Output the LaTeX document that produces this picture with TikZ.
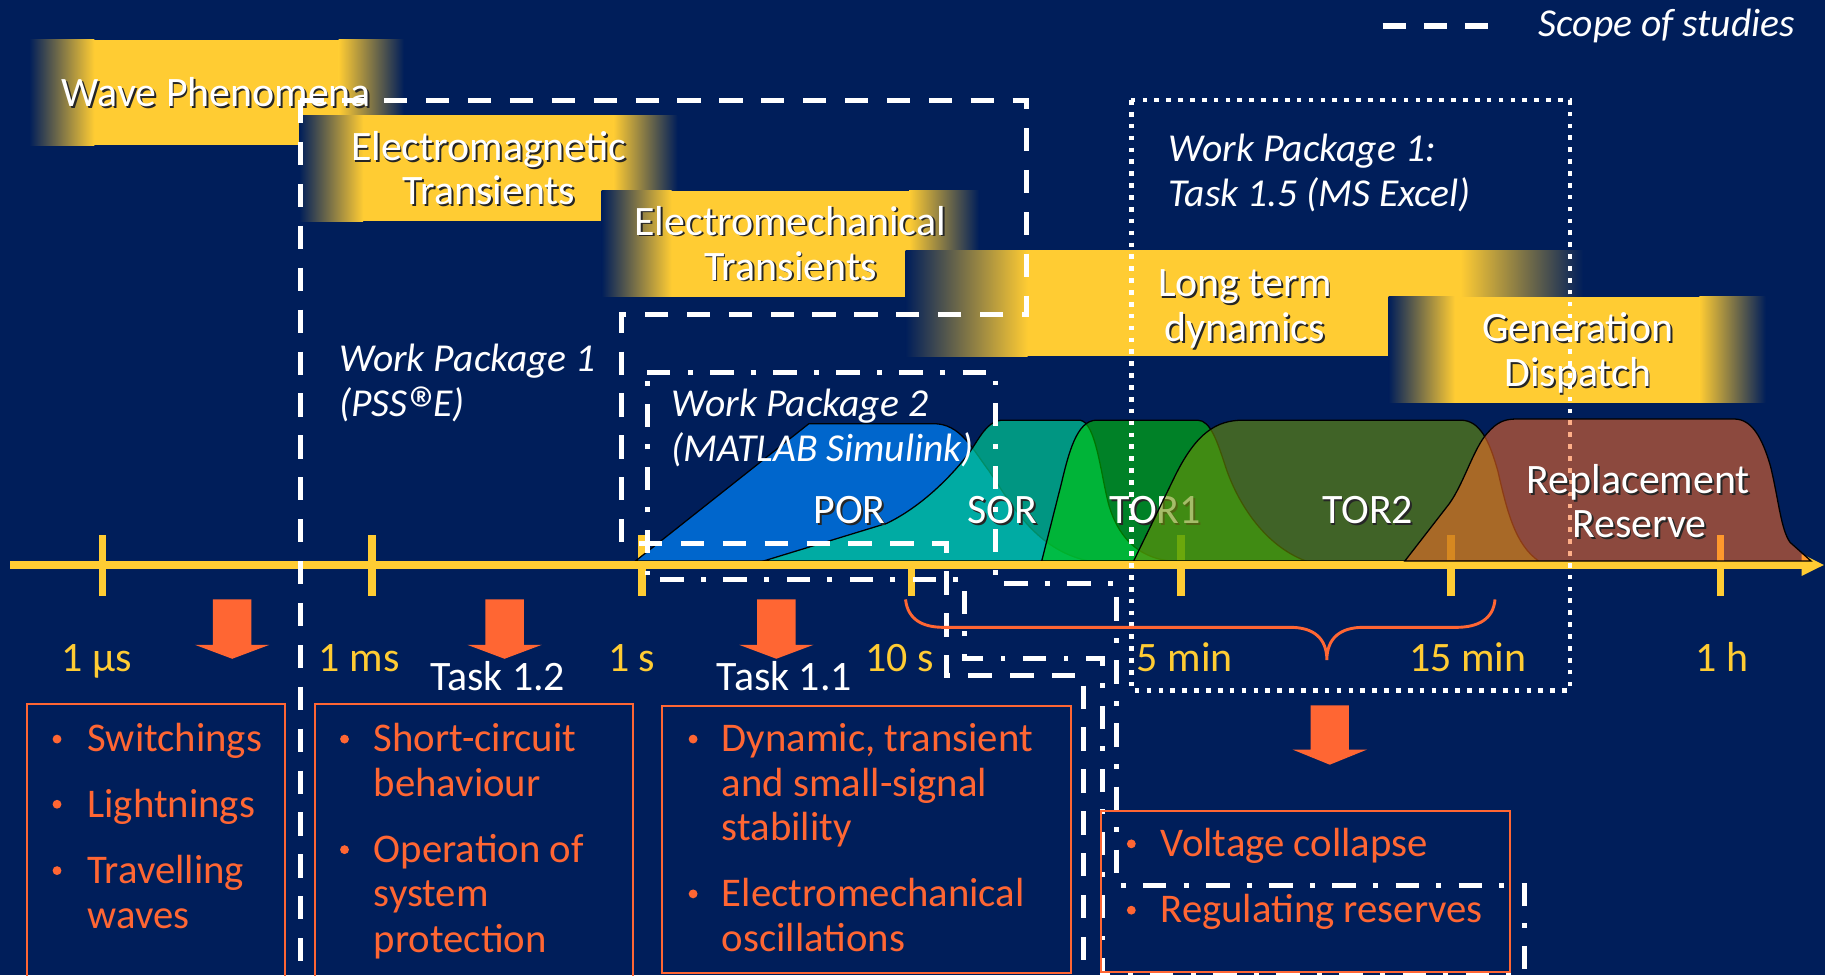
\documentclass[tikz,border=0pt]{standalone}
\usepackage{fontspec}
\setmainfont{Carlito}
\newfontfamily\regmark{Fira Sans}
\definecolor{navy}{RGB}{0,30,90}
\definecolor{gold}{RGB}{255,204,51}
\definecolor{flame}{RGB}{255,102,51}
\definecolor{porblue}{RGB}{0,102,204}
\definecolor{sorteal}{RGB}{0,201,147}
\definecolor{torgreen}{RGB}{0,202,3}
\definecolor{torolive}{RGB}{108,146,6}
\definecolor{rrorange}{RGB}{255,110,40}

% yellow band with soft edges: x1 y1 x2 y2 fade
\newcommand\band[5]{%
  \fill[gold] (#1+#5-0.3,#2) rectangle (#3-#5+0.3,#4);
  \shade[left color=navy,right color=gold] (#1,#2) rectangle (#1+#5,#4);
  \shade[left color=gold,right color=navy] (#3-#5,#2) rectangle (#3,#4);}
% white label with a dark drop shadow: name x y text
\newcommand\shlabel[4]{%
  \node[shlbl,text=black!85] (#1-shadow) at (#2+1.6,#3+1.6) {#4};
  \node[shlbl] (#1) at (#2,#3) {#4};}
% orange block arrow: centre x, shaft top, head base, tip
\newcommand\blockarrow[4]{%
  \fill[flame] (#1-16.5,#2) -- (#1+16.5,#2) -- (#1+16.5,#3) -- (#1+32,#3)
    -- (#1,#4) -- (#1-32,#3) -- (#1-16.5,#3) -- cycle;}
% bullet list pieces: bullet centre sits 11pt above the baseline
\newcommand\bul[3]{\node[bulletdot] (#1) at (#2,#3-11) {};}
\newcommand\li[4]{\node[listtext] (#1) at (#2,#3) {#4};}

\begin{document}
\begin{tikzpicture}[x=1pt,y=-1pt,
  shlbl/.style={anchor=base,inner sep=0pt,text=white,font=\fontsize{36}{40}\selectfont},
  timelbl/.style={anchor=base,inner sep=0pt,text=gold,font=\fontsize{36}{40}\selectfont},
  tasklbl/.style={anchor=base,inner sep=0pt,text=white,font=\fontsize{36}{40}\selectfont},
  itlbl/.style={anchor=base west,inner sep=0pt,text=white,font=\fontsize{34}{40}\selectfont\itshape},
  listtext/.style={anchor=base west,inner sep=0pt,text=flame,font=\fontsize{35}{40}\selectfont},
  bulletdot/.style={circle,fill=flame,inner sep=0pt,minimum size=7.6pt},
  scopeline/.style={white,line width=4.2pt,dash pattern=on 20pt off 16pt},
  wptwo/.style={white,line width=4.2pt,dash pattern=on 20pt off 15pt on 4.2pt off 15pt},
  excel/.style={white,line width=4pt,dash pattern=on 4pt off 6.2pt},
  reserve/.style={draw=black,line width=1.1pt},
  listbox/.style={draw=flame,line width=1.8pt},
  axisline/.style={gold,line width=6.6pt}]

\useasboundingbox (0,0) rectangle (1568,838);
\clip (0,0) rectangle (1568,838);
\fill[navy] (0,0) rectangle (1568,838);

% ---- phenomena bands ----
\band{25}{34}{347}{125}{56}
\shlabel{wave}{186}{91.6}{Wave Phenomena}
\band{257}{99}{582}{190}{55}
\shlabel{emag1}{420}{137.6}{Electromagnetic}
\shlabel{emag2}{420}{176}{Transients}
\band{517}{164}{841}{255}{60}
\shlabel{emech1}{679}{202}{Electromechanical}
\shlabel{emech2}{679}{240.6}{Transients}
\band{778}{215}{1360}{306}{105}
\shlabel{long1}{1069.5}{255}{Long term}
\shlabel{long2}{1069.5}{293.6}{dynamics}
\band{1193}{255}{1517}{346}{57}
\shlabel{gen1}{1355.5}{293.6}{Generation}
\shlabel{gen2}{1355.5}{332}{Dispatch}

% ---- ticks of the time axis ----
\foreach \x in {88,319.7,551.4,783.1,1014.8,1246.5,1478.2}
  \draw[axisline] (\x,460) -- (\x,512);

% ---- reserve products ----
\path[reserve,fill=porblue] (546,482) -- (695,364) -- (802,364)
  .. controls (825,364) and (835,385) .. (850,405)
  .. controls (870,435) and (890,472) .. (935,482) -- cycle;
\path[reserve,fill=sorteal,fill opacity=0.7] (656,482) -- (762,449.6)
  .. controls (790,436) and (815,412) .. (832,390)
  .. controls (842,376) and (848,361) .. (862,361) -- (928,361)
  .. controls (942,363) and (946,410) .. (953,435)
  .. controls (960,458) and (975,479) .. (1006,482) -- cycle;
\path[reserve,fill=torgreen,fill opacity=0.58] (895,482) -- (912,415)
  .. controls (918,390) and (925,361) .. (942,361) -- (1029,361)
  .. controls (1040,361) and (1046,380) .. (1052,398)
  .. controls (1062,430) and (1085,468) .. (1122,482) -- cycle;
\shlabel{tor1}{992.7}{449.5}{TOR1}
\path[reserve,fill=torolive,fill opacity=0.6] (974,482) -- (1010,408)
  .. controls (1028,372) and (1045,361) .. (1068,361) -- (1255,361)
  .. controls (1272,361) and (1280,380) .. (1287,405)
  .. controls (1295,440) and (1302,468) .. (1322,482) -- cycle;
\shlabel{por}{730}{449.5}{POR}
\shlabel{sor}{861}{449.5}{SOR}
\shlabel{tor2}{1175}{449.5}{TOR2}

% ---- time axis ----
\draw[axisline] (9,485.4) -- (1550,485.4);
\fill[gold] (1548,476) -- (1567,485.4) -- (1548,494.8) -- cycle;

% ---- scope of the work packages ----
\draw[scopeline] (258,86) -- (258,860);
\draw[scopeline] (258,86) -- (882,86) -- (882,270) -- (534,270) -- (534,467)
  -- (813,467) -- (813,580) -- (931,580) -- (931,860);
\draw[wptwo] (556,320) -- (855,320) -- (855,501) -- (959,501) -- (959,761)
  -- (1310,761) -- (1310,836) -- (947,836) -- (947,566) -- (829,566)
  -- (829,498) -- (556,498) -- cycle;
\draw[excel] (972,86) rectangle (1349,593);

% legend
\draw[white,line width=5pt,dash pattern=on 20pt off 15.25pt] (1188,22) -- (1278.5,22);
\node[itlbl] (legend) at (1322,31.5) {Scope of studies};

% ---- replacement reserve ----
\path[reserve,fill=rrorange,fill opacity=0.55] (1207,482) -- (1245,433)
  .. controls (1258,415) and (1266,385) .. (1278,372)
  .. controls (1286,363) and (1292,360) .. (1303,360) -- (1490,360)
  .. controls (1505,360) and (1514,376) .. (1521,400)
  .. controls (1528,428) and (1530,455) .. (1538,466) -- (1556,482) -- cycle;
\shlabel{rr1}{1407.6}{423.7}{Replacement}
\shlabel{rr2}{1408.5}{462}{Reserve}

% ---- work package notes ----
\node[itlbl] (wp1a) at (291.5,319.5) {Work Package 1};
\node[itlbl] (wp1b) at (291.5,358) {(PSS{\regmark\itshape ®}E)};
\node[itlbl] (wp2a) at (577,358) {Work Package 2};
\node[itlbl] (wp2b) at (577,396.7) {(MATLAB Simulink)};
\node[itlbl] (wp15a) at (1004,139) {Work Package 1:};
\node[itlbl] (wp15b) at (1004,177.6) {Task 1.5 (MS Excel)};

% ---- time labels ----
\node[timelbl] (t1) at (83.3,577) {1 µs};
\node[timelbl] (t2) at (308.6,577) {1 ms};
\node[timelbl] (t3) at (542.7,577) {1 s};
\node[timelbl] (t4) at (773,577) {10 s};
\node[timelbl] (t5) at (1018,577) {5 min};
\node[timelbl] (t6) at (1261,577) {15 min};
\node[timelbl] (t7) at (1479.7,577) {1 h};

% ---- brace under 10 s .. 15 min ----
\draw[flame,line width=2.5pt] (778,515) .. controls (780,532) and (792,539) .. (811,539)
  -- (1109,539) .. controls (1128,539) and (1140,548) .. (1140,567)
  .. controls (1140,548) and (1152,539) .. (1171,539) -- (1251,539)
  .. controls (1270,539) and (1283,532) .. (1284.5,515);

% ---- arrows to the phenomena lists ----
\blockarrow{199.5}{515}{554}{566}
\blockarrow{433.5}{515}{554}{566}
\blockarrow{667}{515}{554}{566}
\blockarrow{1142.5}{606}{644}{657}
\node[tasklbl] (task12) at (427.6,593) {Task 1.2};
\node[tasklbl] (task11) at (674,593) {Task 1.1};

% ---- lists ----
\draw[listbox] (23,605) rectangle (245,845);
\bul{b1a}{49}{646} \li{l1a}{75}{646}{Switchings}
\bul{b1b}{49}{702} \li{l1b}{75}{702}{Lightnings}
\bul{b1c}{49}{759} \li{l1c}{75}{759}{Travelling}
\li{l1d}{75}{798}{waves}

\draw[listbox] (270.4,605) rectangle (543.5,845);
\bul{b2a}{296}{646} \li{l2a}{321}{646}{Short-circuit}
\li{l2b}{321}{684}{behaviour}
\bul{b2c}{296}{741} \li{l2c}{321}{741}{Operation of}
\li{l2d}{321}{779}{system}
\li{l2e}{321}{818}{protection}

\draw[listbox] (569,606.6) rectangle (920,835.7);
\bul{b3a}{595.5}{646} \li{l3a}{620}{646}{Dynamic, transient}
\li{l3b}{620}{684}{and small-signal}
\li{l3c}{620}{722}{stability}
\bul{b3d}{595.5}{779} \li{l3d}{620}{779}{Electromechanical}
\li{l3e}{620}{817.5}{oscillations}

\draw[listbox] (946,697) rectangle (1297,835);
\bul{b4a}{972}{736} \li{l4a}{997}{736}{Voltage collapse}
\bul{b4b}{972}{793} \li{l4b}{997}{793}{Regulating reserves}

\end{tikzpicture}
\end{document}
